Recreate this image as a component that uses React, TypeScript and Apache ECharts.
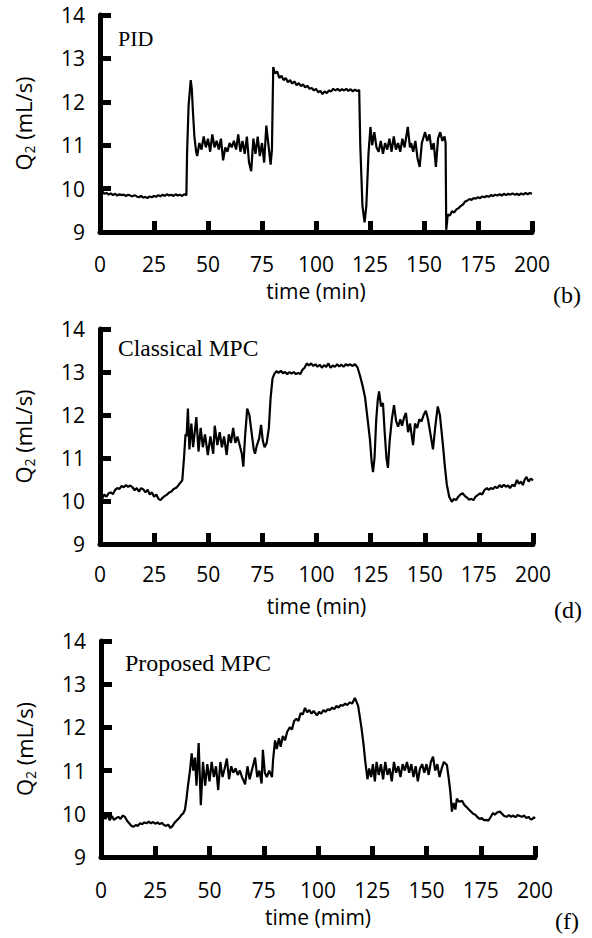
import React, { useEffect, useRef } from "react";
import * as echarts from "echarts";

// x tick values (min) and y tick values (mL/s)
const xTicks = [0, 25, 50, 75, 100, 125, 150, 175, 200];
const yTicks = [9, 10, 11, 12, 13, 14];

const panelTitles = ["PID", "Classical MPC", "Proposed MPC"];
const panelTags = ["(b)", "(d)", "(f)"];
const xNames = ["time (min)", "time (min)", "time (mim)"];

// PID response [time, Q2]
const pidData: [number, number][] = [
  [0, 9.98], [0.5, 9.85], [1, 9.95], [2, 9.88], [3, 9.9], [4, 9.86], [5, 9.89], [6, 9.85], [7, 9.88], [8, 9.84],
  [9, 9.87], [10, 9.85], [11, 9.86], [12, 9.83], [13, 9.86], [14, 9.84], [15, 9.82], [16, 9.85], [17, 9.82], [18, 9.8],
  [19, 9.83], [20, 9.79], [21, 9.81], [22, 9.78], [23, 9.82], [24, 9.8], [25, 9.83], [26, 9.81], [27, 9.85], [28, 9.82],
  [29, 9.86], [30, 9.83], [31, 9.87], [32, 9.84], [33, 9.86], [34, 9.83], [35, 9.87], [36, 9.84], [37, 9.86], [38, 9.83],
  [39, 9.87], [40, 9.85], [40.3, 10.8], [41, 11.9], [42, 12.5], [42.5, 12.3], [43, 11.8], [43.7, 11.2], [44.5, 10.85], [45, 10.75],
  [46, 11.05], [47, 10.9], [48, 11.2], [49, 10.95], [50, 11.15], [51, 10.85], [52, 11.25], [53, 10.95], [54, 11.1], [55, 10.9],
  [56, 11.15], [57, 10.65], [58, 10.95], [59, 10.85], [60, 11.05], [61, 10.95], [62, 11.1], [63, 10.9], [64, 11.25], [65, 10.85],
  [66, 11.1], [67, 10.8], [68, 11.2], [69, 10.6], [70, 10.4], [71, 11.15], [72, 10.8], [73, 11.2], [74, 10.75], [75, 11.05],
  [76, 10.6], [77, 11.45], [78, 11.0], [79, 10.55], [79.6, 10.9], [80.2, 12.8], [81, 12.65], [82, 12.7], [83, 12.55], [84, 12.6],
  [85, 12.5], [86, 12.55], [87, 12.45], [88, 12.5], [89, 12.42], [90, 12.47], [91, 12.38], [92, 12.43], [93, 12.36], [94, 12.4],
  [95, 12.33], [96, 12.37], [97, 12.3], [98, 12.32], [99, 12.26], [100, 12.3], [101, 12.22], [102, 12.25], [103, 12.18], [104, 12.24],
  [105, 12.2], [106, 12.26], [107, 12.24], [108, 12.3], [109, 12.26], [110, 12.3], [111, 12.25], [112, 12.29], [113, 12.26], [114, 12.3],
  [115, 12.25], [116, 12.29], [117, 12.24], [118, 12.28], [119, 12.25], [120, 12.27], [120.5, 11.0], [121.5, 9.6], [122.5, 9.22], [123.3, 9.6],
  [124.3, 10.8], [125.2, 11.42], [126, 11.0], [127, 11.3], [128, 10.95], [129, 10.85], [130, 11.1], [131, 10.8], [132, 11.05], [133, 10.9],
  [134, 11.15], [135, 10.85], [136, 11.2], [137, 10.9], [138, 11.05], [139, 10.85], [140, 11.15], [141, 10.95], [142.5, 11.42], [143.5, 10.95],
  [144, 11.05], [145, 10.85], [146, 11.1], [147, 10.7], [148, 10.5], [149, 11.05], [150.5, 11.3], [151.5, 11.1], [152.5, 11.25], [153.5, 10.9],
  [154.5, 11.05], [155.5, 10.5], [156.5, 11.15], [157.5, 11.3], [158.5, 11.1], [159.5, 11.2], [160, 11.05], [160.3, 9.05], [161, 9.4], [162, 9.38],
  [163, 9.48], [164, 9.45], [165, 9.52], [166, 9.55], [167, 9.6], [168, 9.63], [169, 9.7], [170, 9.72], [171, 9.76], [172, 9.74],
  [173, 9.78], [174, 9.77], [175, 9.8], [176, 9.78], [177, 9.82], [178, 9.8], [179, 9.83], [180, 9.81], [181, 9.85], [182, 9.83],
  [183, 9.86], [184, 9.84], [185, 9.87], [186, 9.84], [187, 9.88], [188, 9.85], [189, 9.88], [190, 9.86], [191, 9.89], [192, 9.86],
  [193, 9.88], [194, 9.85], [195, 9.89], [196, 9.86], [197, 9.9], [198, 9.87], [199, 9.9], [200, 9.88],
];

// Classical MPC response [time, Q2]
const classicalData: [number, number][] = [
  [0, 10.12], [1, 10.05], [2, 10.15], [3, 10.1], [4, 10.18], [5, 10.2], [6, 10.16], [7, 10.26], [8, 10.3], [9, 10.28],
  [10, 10.35], [11, 10.32], [12, 10.37], [13, 10.33], [14, 10.36], [15, 10.32], [16, 10.25], [17, 10.3], [18, 10.22], [19, 10.3],
  [20, 10.27], [21, 10.2], [22, 10.26], [23, 10.15], [24, 10.2], [25, 10.1], [26, 10.15], [27, 10.05], [28, 10.02], [29, 10.08],
  [30, 10.12], [31, 10.15], [32, 10.2], [33, 10.22], [34, 10.28], [35, 10.3], [36, 10.35], [37, 10.42], [38, 10.48], [38.8, 11.0],
  [39.5, 11.55], [40, 11.5], [40.6, 12.15], [41.3, 11.2], [42.2, 11.8], [43, 11.25], [44.5, 11.95], [45.5, 11.15], [46.5, 11.7], [47.5, 11.25],
  [48.5, 11.55], [49.8, 11.07], [51, 11.5], [52.3, 11.1], [53, 11.75], [54.2, 11.3], [55.3, 11.6], [56.3, 11.25], [57.3, 11.5], [58.5, 11.07],
  [59.5, 11.55], [60.5, 11.35], [61.5, 11.7], [62.5, 11.35], [63.5, 11.5], [64.5, 11.3], [65.5, 11.1], [66.2, 10.8], [67, 11.5], [68, 12.15],
  [69, 12.0], [70, 11.6], [71, 11.2], [71.6, 11.1], [72.5, 11.3], [73.5, 11.45], [74.4, 11.77], [75.2, 11.4], [76, 11.25], [77, 11.35],
  [78, 11.7], [78.8, 12.4], [79.7, 12.85], [80.5, 12.95], [81.5, 13.02], [82.5, 12.98], [83.5, 13.03], [84.5, 12.97], [85.5, 13.0], [86.5, 12.95],
  [87.5, 13.0], [88.5, 12.96], [89.5, 13.0], [90.5, 12.95], [91.5, 12.98], [92.5, 12.95], [93.5, 13.05], [94.5, 13.1], [95.5, 13.2], [96.5, 13.15],
  [97.5, 13.2], [98.5, 13.14], [99.5, 13.18], [100.5, 13.12], [101.5, 13.17], [102.5, 13.1], [103.5, 13.16], [104.5, 13.12], [105.5, 13.2], [106.5, 13.1],
  [107.5, 13.15], [108.5, 13.12], [109.5, 13.18], [110.5, 13.13], [111.5, 13.17], [112.5, 13.12], [113.5, 13.18], [114.5, 13.15], [115.5, 13.18], [116.5, 13.14],
  [117.8, 13.18], [119, 13.1], [120, 12.93], [121.2, 12.7], [122.4, 12.42], [123.5, 11.95], [124.7, 11.42], [125.5, 10.9], [126.1, 10.67], [126.8, 11.0],
  [127.6, 11.9], [128.3, 12.35], [128.9, 12.55], [129.8, 12.2], [130.7, 12.28], [131.5, 11.6], [132.3, 11.0], [133, 10.77], [133.8, 11.4], [134.8, 11.9],
  [135.8, 12.23], [136.8, 11.85], [137.7, 11.73], [138.7, 11.9], [139.5, 11.75], [140.5, 11.95], [141.3, 12.05], [142.3, 11.6], [143.2, 11.8], [144.6, 11.3],
  [145.5, 11.8], [146.5, 11.7], [147.5, 11.9], [148.5, 11.85], [149.5, 12.0], [150.5, 12.1], [151.5, 11.9], [152.5, 11.6], [153.8, 11.2], [154.8, 11.7],
  [156, 12.2], [157, 12.0], [158.4, 11.3], [159.3, 10.8], [160.2, 10.38], [161.3, 10.1], [162.5, 9.98], [163.5, 10.05], [164.5, 10.02], [165.5, 10.1],
  [166.5, 10.15], [167.5, 10.18], [168.5, 10.12], [169.5, 10.08], [170.5, 10.03], [171.5, 10.05], [172.5, 10.02], [173.5, 10.1], [174.6, 10.14], [175.5, 10.18],
  [176.5, 10.15], [177.5, 10.25], [178.7, 10.3], [179.5, 10.26], [180.5, 10.3], [181.5, 10.28], [182.5, 10.33], [183.5, 10.3], [184.7, 10.37], [185.5, 10.32],
  [186.5, 10.38], [187.5, 10.33], [188.5, 10.36], [189.4, 10.3], [190.5, 10.38], [191.5, 10.34], [192.6, 10.49], [193.5, 10.4], [194.5, 10.45], [195.3, 10.37],
  [196.2, 10.5], [197, 10.56], [198, 10.45], [199, 10.52], [200, 10.48],
];

// Proposed MPC response [time, Q2]
const proposedData: [number, number][] = [
  [0, 10.04], [0.5, 9.9], [1, 10.0], [2, 9.88], [3, 9.98], [4, 9.85], [5, 9.95], [6, 9.86], [7, 9.9], [8, 9.93],
  [9, 9.88], [10, 9.96], [11, 9.93], [12, 9.84], [13, 9.78], [14, 9.72], [15, 9.7], [16, 9.74], [17, 9.72], [18, 9.78],
  [19, 9.76], [20, 9.8], [21, 9.78], [22, 9.82], [23, 9.78], [24, 9.81], [25, 9.77], [26, 9.8], [27, 9.76], [28, 9.79],
  [29, 9.74], [30, 9.72], [31, 9.75], [32, 9.67], [33, 9.72], [34, 9.8], [35, 9.85], [36, 9.9], [37, 9.97], [38, 10.02],
  [38.7, 10.1], [39.4, 10.35], [40, 10.62], [41, 11.0], [41.8, 11.4], [42.5, 11.0], [43.3, 11.3], [44, 10.65], [45, 11.64], [46, 10.2],
  [47, 11.2], [48, 10.65], [49, 11.15], [50, 10.75], [51, 11.2], [52, 10.85], [53, 11.1], [54, 10.55], [55, 11.2], [56, 10.85],
  [57, 11.05], [58, 11.28], [59, 10.8], [60, 11.1], [61, 10.95], [62, 11.05], [63, 10.9], [64, 11.0], [65, 10.85], [66.4, 10.68],
  [67.5, 11.1], [68.5, 10.8], [69.5, 11.0], [71, 11.3], [72, 10.85], [73, 11.0], [74, 10.7], [74.6, 11.48], [75.5, 10.95], [76.4, 10.85],
  [77.5, 11.0], [78.8, 10.85], [79.3, 11.25], [80.2, 11.7], [81, 11.5], [82, 11.75], [82.8, 11.55], [83.8, 11.8], [84.8, 11.7], [85.8, 11.9],
  [87, 12.0], [88, 11.95], [89, 12.15], [90, 12.2], [91, 12.15], [92, 12.33], [93, 12.3], [94, 12.45], [95, 12.35], [96, 12.4],
  [97, 12.32], [98, 12.38], [99.5, 12.28], [100.5, 12.36], [101.5, 12.32], [102.5, 12.4], [103.5, 12.36], [104.5, 12.42], [105.5, 12.4], [106.5, 12.46],
  [107.5, 12.42], [108.5, 12.5], [109.5, 12.46], [110.5, 12.52], [111.5, 12.5], [112.5, 12.55], [113.5, 12.52], [114.7, 12.58], [115.7, 12.55], [117, 12.68],
  [118.5, 12.5], [120, 12.0], [121, 11.6], [121.7, 11.25], [122.8, 10.8], [123.6, 11.05], [124.5, 10.85], [125.3, 11.15], [126.2, 10.75], [127, 11.2],
  [128, 10.9], [129, 11.15], [130, 10.8], [131, 11.2], [132, 10.9], [133, 11.05], [134, 10.75], [135, 11.2], [136, 10.95], [137, 11.1],
  [138, 10.85], [139, 11.15], [140, 11.0], [141, 11.2], [142, 10.95], [143, 11.15], [144, 10.85], [145, 11.1], [146, 10.75], [147, 11.05],
  [148, 11.15], [149, 10.95], [150, 11.15], [151, 10.9], [152, 11.2], [153, 11.32], [154, 11.0], [155, 11.15], [156, 10.85], [157, 11.05],
  [158, 11.2], [159.4, 11.13], [160.3, 10.8], [161, 10.5], [161.7, 10.05], [162.5, 10.25], [163.3, 10.1], [164, 10.35], [165, 10.28], [166.4, 10.3],
  [167.5, 10.2], [168.6, 10.15], [169.5, 10.1], [170.5, 10.05], [171.5, 10.0], [172.5, 9.98], [173.5, 9.92], [174.6, 9.88], [175.5, 9.9], [176.5, 9.85],
  [177.7, 9.86], [178.5, 9.84], [179.5, 9.92], [180.7, 10.02], [181.5, 9.98], [182.5, 10.03], [183.8, 10.05], [184.8, 10.0], [185.8, 9.95], [186.9, 9.93],
  [188, 9.97], [189, 9.93], [190, 9.96], [191, 9.92], [192, 9.97], [193, 9.95], [194, 9.93], [195, 9.96], [196, 9.9], [197, 9.93],
  [198, 9.87], [198.8, 9.88], [199.5, 9.92], [200, 9.89],
];

const seriesData = [pidData, classicalData, proposedData];

// layout (pixels)
const grids = [
  { left: 100, top: 15, width: 432, height: 217 },
  { left: 100, top: 329, width: 433, height: 215 },
  { left: 101, top: 641, width: 434, height: 216 },
];
const labelMargins = [23, 21, 24];
const xNameGaps = [50, 53, 51];
const titlePos = [
  { x: 118, y: 38, size: 22 },
  { x: 118, y: 348, size: 23.5 },
  { x: 125, y: 663, size: 24 },
];
const tagPos = [
  { x: 567, y: 295 },
  { x: 568, y: 610 },
  { x: 567, y: 921 },
];

const SANS = "'Open Sans', 'Liberation Sans', sans-serif";
const SERIF = "'Liberation Serif', 'Times New Roman', serif";

function axisLine() {
  return { show: true, lineStyle: { color: "#000", width: 5 } };
}
function axisTick() {
  return { show: true, inside: true, length: 11, lineStyle: { color: "#000", width: 5 } };
}

export default function App() {
  const ref = useRef<HTMLDivElement>(null);
  useEffect(() => {
    if (!ref.current) return;
    const chart = echarts.init(ref.current, undefined, { renderer: "svg" });
    const option: any = {
      animation: false,
      backgroundColor: "#fff",
      grid: grids,
      xAxis: grids.map((_, i) => ({
        type: "value",
        gridIndex: i,
        min: xTicks[0],
        max: xTicks[xTicks.length - 1],
        interval: 25,
        name: xNames[i],
        nameLocation: "middle",
        nameGap: xNameGaps[i],
        nameTextStyle: { fontFamily: SANS, fontSize: 21, lineHeight: 18, color: "#000" },
        axisLine: axisLine(),
        axisTick: axisTick(),
        axisLabel: { margin: labelMargins[i], fontFamily: SANS, fontSize: 21, lineHeight: 18, color: "#000" },
        splitLine: { show: false },
      })),
      yAxis: grids.map((_, i) => ({
        type: "value",
        gridIndex: i,
        min: yTicks[0],
        max: yTicks[yTicks.length - 1],
        interval: 1,
        name: "{a|Q}{b|2}{a| (mL/s)}",
        nameLocation: "middle",
        nameRotate: 90,
        nameGap: 64,
        nameTextStyle: {
          color: "#000",
          rich: {
            a: { fontFamily: SANS, fontSize: 22, lineHeight: 26, color: "#000" },
            b: { fontFamily: SANS, fontSize: 14, lineHeight: 14, verticalAlign: "bottom", color: "#000" },
          },
        },
        axisLine: axisLine(),
        axisTick: axisTick(),
        axisLabel: { margin: 15, fontFamily: SANS, fontSize: 21, color: "#000" },
        splitLine: { show: false },
      })),
      series: seriesData.map((d, i) => ({
        type: "line",
        xAxisIndex: i,
        yAxisIndex: i,
        data: d,
        showSymbol: false,
        symbol: "none",
        silent: true,
        lineStyle: { color: "#000", width: 2.2 },
      })),
      graphic: [
        ...panelTitles.map((t, i) => ({
          type: "text",
          left: titlePos[i].x,
          top: titlePos[i].y - titlePos[i].size / 2,
          style: { text: t, font: `${titlePos[i].size}px ${SERIF}`, fill: "#000" },
        })),
        ...panelTags.map((t, i) => ({
          type: "text",
          x: tagPos[i].x,
          y: tagPos[i].y,
          style: { text: t, font: `24px ${SERIF}`, fill: "#000", align: "center", verticalAlign: "middle" },
        })),
      ],
    };
    chart.setOption(option);
    return () => chart.dispose();
  }, []);
  return (
    <div
      ref={ref}
      style={{ position: "absolute", left: 0, top: 0, width: 592, height: 938, background: "#fff" }}
    />
  );
}
